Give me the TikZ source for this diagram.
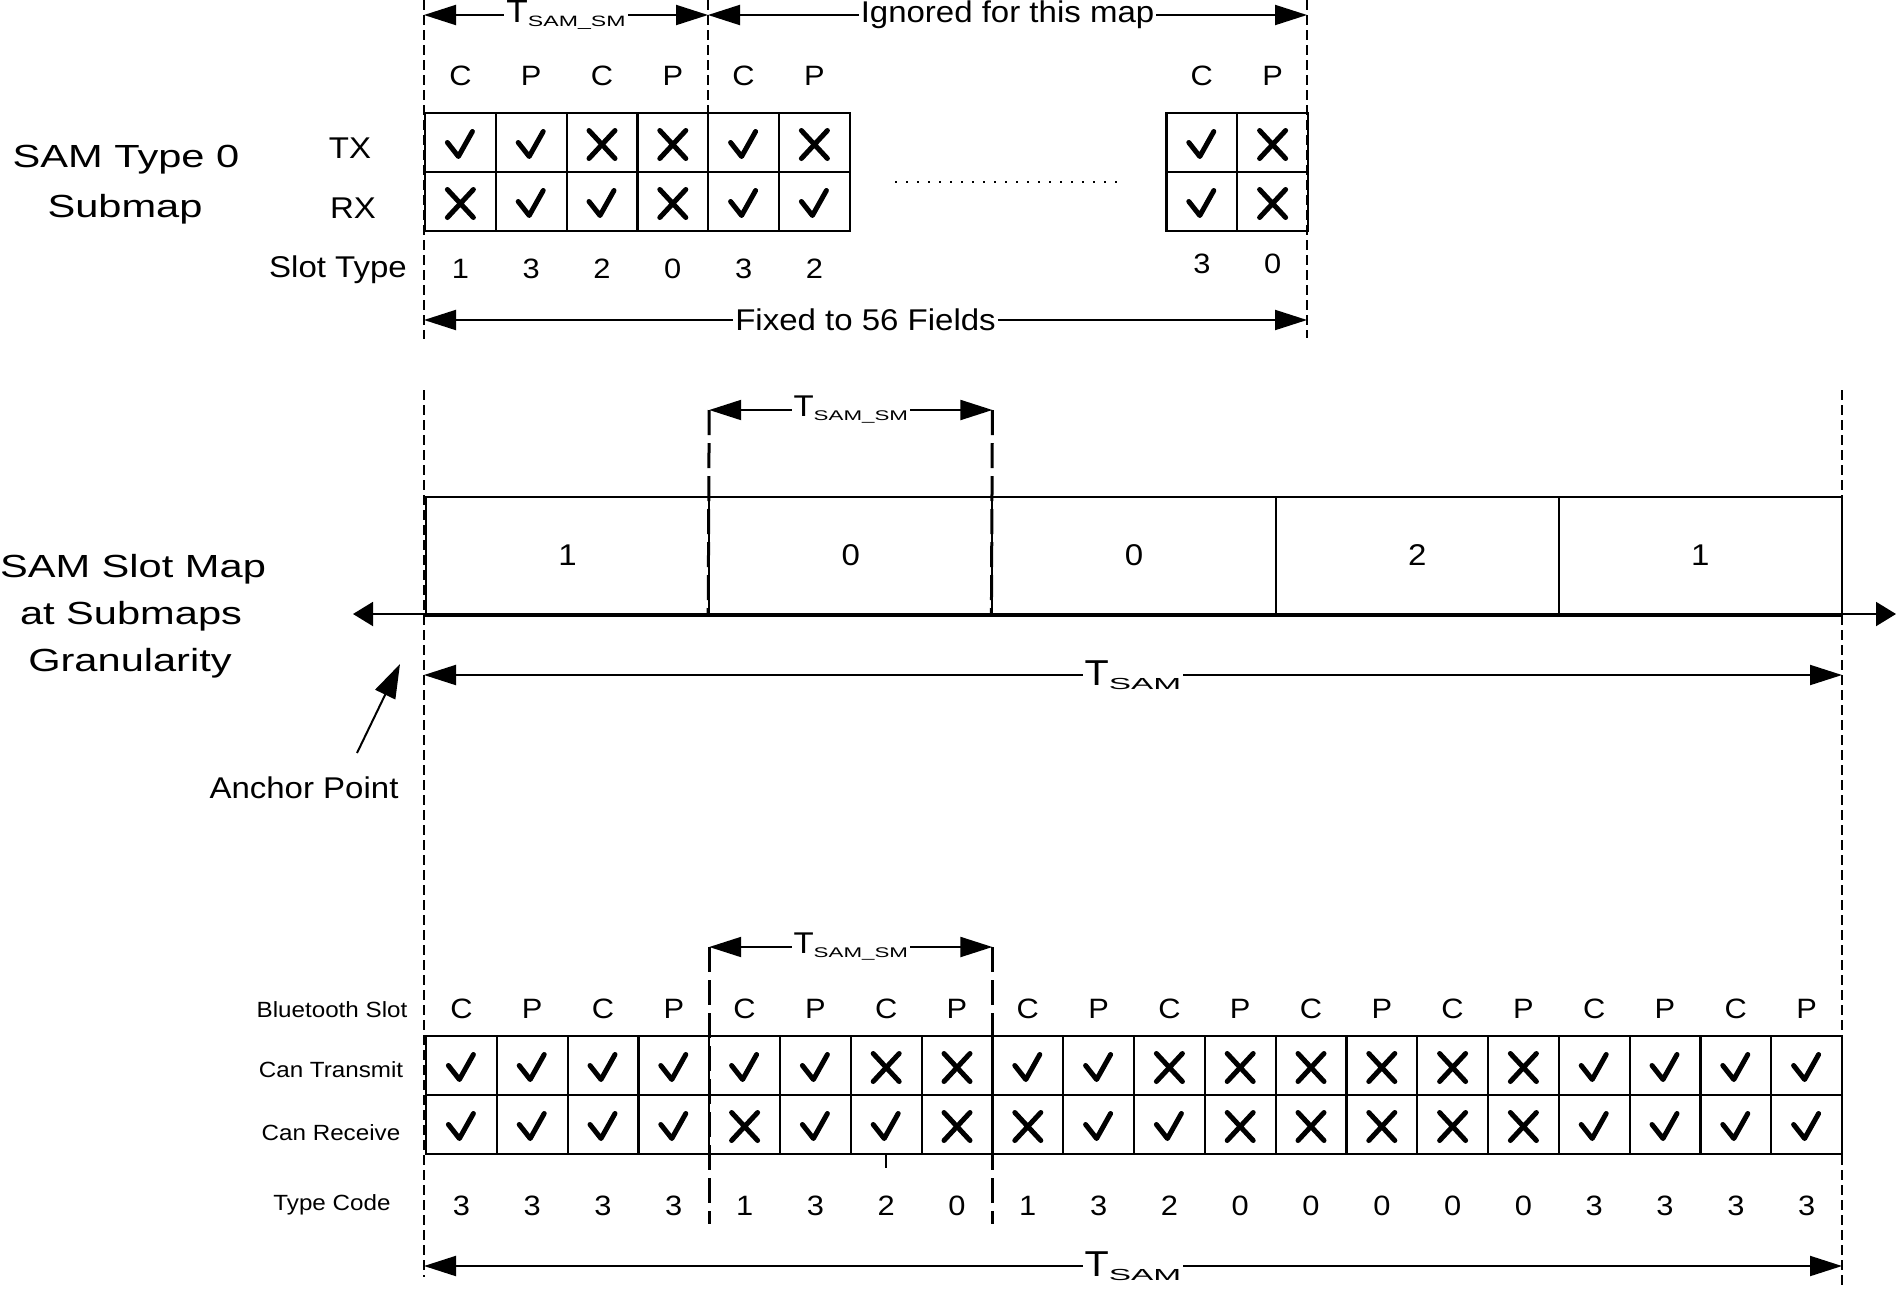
\documentclass[tikz,border=0pt]{standalone}
\usepackage{fontspec}
\setmainfont{Liberation Sans}[FakeStretch=1.1]
\newfontfamily\widefont{Liberation Sans}[FakeStretch=1.3]
\usetikzlibrary{arrows.meta}

\tikzstyle{dimline} = [line width=2pt, {Triangle[length=32pt,width=20pt]}-{Triangle[length=32pt,width=20pt]}]
\tikzstyle{timeaxis} = [line width=2pt, {Triangle[length=20pt,width=24pt]}-{Triangle[length=20pt,width=24pt]}]
\tikzstyle{guide} = [line width=1.5pt, dash pattern=on 10pt off 5pt]
\tikzstyle{windowline} = [line width=3pt, dash pattern=on 25pt off 8pt]
\tikzstyle{cell} = [draw, line width=2.2pt, minimum width=70.8pt, minimum height=59pt, inner sep=0pt]
\tikzstyle{slotbox} = [draw, line width=2pt, minimum width=283.2pt, minimum height=117pt, inner sep=0pt, font=\fontsize{30}{30}\selectfont]
\tikzstyle{tag} = [fill=white, inner sep=2pt, font=\fontsize{30}{30}\selectfont]
\tikzstyle{midtext} = [font=\fontsize{30}{30}\selectfont, anchor=base]
\tikzstyle{slottext} = [font=\fontsize{28}{28}\selectfont, anchor=base]
\tikzstyle{smalltext} = [font=\fontsize{22}{22}\selectfont, anchor=base]
\tikzstyle{titletext} = [font=\widefont\fontsize{32}{32}\selectfont, anchor=base]
\tikzstyle{markline} = [line width=5pt, line cap=round, line join=round]

% tick (y) or cross (n) inside a cell
\newcommand\slotmark[2]{%
  \if#2y\draw[markline,shift={(#1)}] (-13,0) -- (-2,14) -- (12,-11);%
  \else\draw[markline,shift={(#1)}] (-13,-12) -- (13,16) (-13,16) -- (13,-12);\fi}
% T with a wide subscript
\newcommand\tsym[5]{{\fontsize{#1}{#1}\selectfont T}\raisebox{-#5pt}{\scalebox{#3}[1]{\fontsize{#2}{#2}\selectfont #4}}}

\begin{document}
\begin{tikzpicture}[x=1pt, y=-1pt]
\useasboundingbox (0,0) rectangle (1898,1288);

% ---- SAM type 0 submap
\node[titletext] (sub1) at (126,167) {SAM Type 0};
\node[titletext] (sub2) at (125,217) {Submap};
\node[midtext] (txlab) at (350,158) {TX};
\node[midtext] (rxlab) at (353,218) {RX};
\node[midtext] (stlab) at (338,277) {Slot Type};

\draw[guide] (424,0) -- (424,339);
\draw[guide] (708,0) -- (708,232);
\draw[guide] (1307,0) -- (1307,338);

\coordinate (sm0) at (424,15);
\coordinate (sm1) at (708,15);
\coordinate (sm2) at (1307,15);
\draw[dimline] (sm0) -- node[tag] {\tsym{32}{15}{1.4}{SAM\_SM}{4}} (sm1);
\draw[dimline] (sm1) -- node[tag] {Ignored for this map} (sm2);

\foreach \cp/\tx/\rx/\st [count=\i] in {C/y/n/1, P/y/y/3, C/n/y/2, P/n/n/0, C/y/y/3, P/n/y/2} {
  \node[cell] (tx\i) at ({425+70.8*(\i-0.5)},142.5) {};
  \node[cell] (rx\i) at ({425+70.8*(\i-0.5)},201.5) {};
  \slotmark{tx\i}{\tx}
  \slotmark{rx\i}{\rx}
  \node[slottext] (cp\i) at ({425+70.8*(\i-0.5)},85) {\cp};
  \node[slottext] (st\i) at ({425+70.8*(\i-0.5)},278) {\st};
}
\foreach \cp/\tx/\rx/\st [count=\i] in {C/y/y/3, P/n/n/0} {
  \node[cell] (txe\i) at ({1166.4+70.8*(\i-0.5)},142.5) {};
  \node[cell] (rxe\i) at ({1166.4+70.8*(\i-0.5)},201.5) {};
  \slotmark{txe\i}{\tx}
  \slotmark{rxe\i}{\rx}
  \node[slottext] (cpe\i) at ({1166.4+70.8*(\i-0.5)},85) {\cp};
  \node[slottext] (ste\i) at ({1166.4+70.8*(\i-0.5)},273) {\st};
}
\draw[line width=2pt, dash pattern=on 2pt off 9pt] (895,182) -- (1122,182);

\coordinate (fx0) at (424,320);
\coordinate (fx1) at (1307,320);
\draw[dimline] (fx0) -- node[tag] {Fixed to 56 Fields} (fx1);

% ---- slot map at submap granularity
\node[titletext] (map1) at (133,577) {SAM Slot Map};
\node[titletext] (map2) at (131,624) {at Submaps};
\node[titletext] (map3) at (130,671) {Granularity};

\draw[guide] (424,390) -- (424,1277);
\draw[guide] (1842,390) -- (1842,1288);

\foreach \v [count=\i] in {1,0,0,2,1}
  \node[slotbox] (sb\i) at ({426+283.2*(\i-0.5)},555.5) {\v};

\coordinate (wl) at (709.2,410);
\coordinate (wr) at (992.4,410);
\draw[windowline] (wl) -- (sb2.south west);
\draw[windowline] (wr) -- (sb3.south west);
\draw[dimline] (wl) -- node[tag] {\tsym{30}{14}{1.45}{SAM\_SM}{4}} (wr);

\coordinate (axl) at (353,614);
\coordinate (axr) at (1896,614);
\draw[timeaxis] (axl) -- (axr);
\draw[line width=4pt] (sb1.south west) -- (sb5.south east);

\coordinate (ts0) at (424,675);
\coordinate (ts1) at (1842,675);
\draw[dimline] (ts0) -- node[tag] {\tsym{36}{16}{1.9}{SAM}{4}} (ts1);

\node[midtext] (anchor) at (304,798) {Anchor Point};
\coordinate (anchortail) at (357,753);
\coordinate (anchortip) at (400,664);
\draw[line width=2pt, -{Triangle[length=34pt,width=22pt]}] (anchortail) -- (anchortip);

% ---- bluetooth slots
\node[smalltext] (btlab) at (332,1017) {Bluetooth Slot};
\node[smalltext] (ctlab) at (331,1077) {Can Transmit};
\node[smalltext] (crlab) at (331,1140) {Can Receive};
\node[smalltext] (tclab) at (332,1210) {Type Code};

\coordinate (bl) at (709.2,947);
\coordinate (br) at (992.4,947);
\draw[windowline] (bl) -- (709.2,1224);
\draw[windowline] (br) -- (992.4,1224);
\draw[dimline] (bl) -- node[tag] {\tsym{30}{14}{1.45}{SAM\_SM}{4}} (br);

\foreach \cp/\tx/\rx/\st [count=\i] in {C/y/y/3, P/y/y/3, C/y/y/3, P/y/y/3, C/y/n/1, P/y/y/3, C/n/y/2, P/n/n/0, C/y/n/1, P/y/y/3, C/n/y/2, P/n/n/0, C/n/n/0, P/n/n/0, C/n/n/0, P/n/n/0, C/y/y/3, P/y/y/3, C/y/y/3, P/y/y/3} {
  \node[cell] (bt\i) at ({426+70.8*(\i-0.5)},1065.5) {};
  \node[cell] (br\i) at ({426+70.8*(\i-0.5)},1124.5) {};
  \slotmark{bt\i}{\tx}
  \slotmark{br\i}{\rx}
  \node[slottext] (bc\i) at ({426+70.8*(\i-0.5)},1018) {\cp};
  \node[slottext] (bn\i) at ({426+70.8*(\i-0.5)},1215) {\st};
}
\draw[line width=2pt] (br7.south) -- ++(0,13);

\coordinate (tb0) at (424,1266);
\coordinate (tb1) at (1842,1266);
\draw[dimline] (tb0) -- node[tag] {\tsym{36}{16}{1.9}{SAM}{4}} (tb1);
\end{tikzpicture}
\end{document}
